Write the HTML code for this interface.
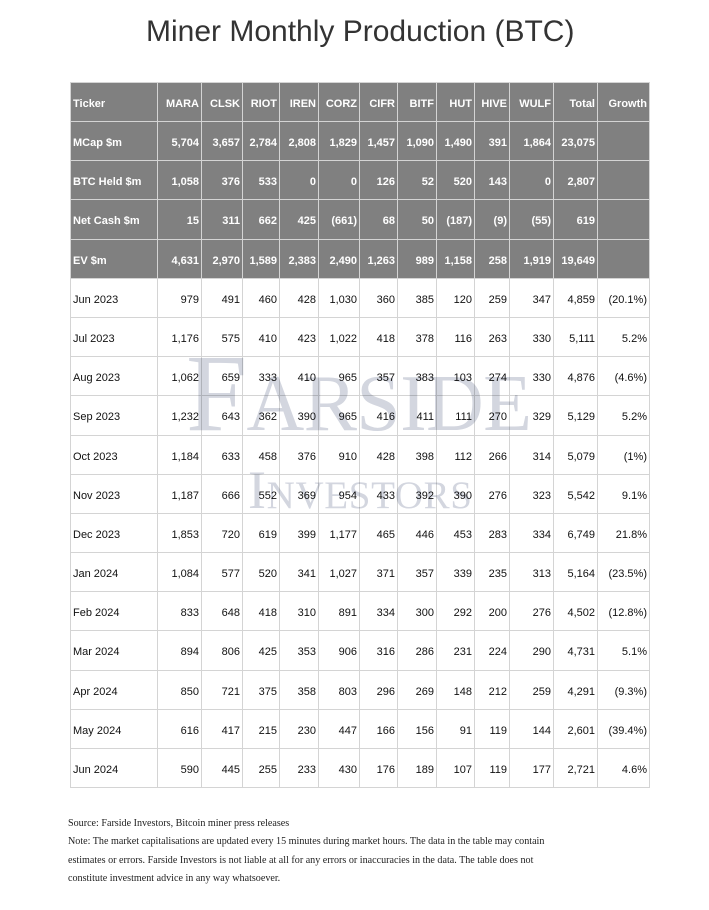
<!DOCTYPE html>
<html><head><meta charset="utf-8">
<style>
html,body{margin:0;padding:0;background:#fff;}
body{width:709px;height:910px;position:relative;overflow:hidden;}
.title{position:absolute;left:146px;top:17px;font:30px/30px "Liberation Sans",Arial,sans-serif;color:#333;white-space:nowrap;}
.grid{position:absolute;left:70px;top:82px;width:578px;height:704px;padding:1px;background:#d4d4d4;display:grid;gap:1px;
grid-template-columns:86px 43px 40px 36px 38px 40px 37px 38px 37px 34px 43px 43px 51px;
grid-template-rows:38px 38px 38px 39px 38px 38px 38px 38px 39px 38px 38px 38px 38px 38px 39px 38px 38px 38px;}
.grid>div{display:flex;align-items:center;justify-content:flex-end;padding:3px 2px 0 0;background:#fff;font:11px "Liberation Sans",Arial,sans-serif;color:#111;white-space:nowrap;overflow:hidden;}
.grid>div.l{justify-content:flex-start;padding:3px 0 0 2px;}
.grid>div.h{background:#808080;color:#fff;font-weight:bold;}
.wm{position:absolute;left:0;top:0;width:709px;height:910px;mix-blend-mode:multiply;pointer-events:none;}
.foot{position:absolute;left:68px;top:815px;font:10.1px/18.3px "Liberation Serif","Times New Roman",serif;color:#222;white-space:nowrap;}
</style></head><body>
<div class="title">Miner Monthly Production (BTC)</div>
<div class="grid">
<div class="h l">Ticker</div><div class="h">MARA</div><div class="h">CLSK</div><div class="h">RIOT</div><div class="h">IREN</div><div class="h">CORZ</div><div class="h">CIFR</div><div class="h">BITF</div><div class="h">HUT</div><div class="h">HIVE</div><div class="h">WULF</div><div class="h">Total</div><div class="h">Growth</div>
<div class="h l">MCap $m</div><div class="h">5,704</div><div class="h">3,657</div><div class="h">2,784</div><div class="h">2,808</div><div class="h">1,829</div><div class="h">1,457</div><div class="h">1,090</div><div class="h">1,490</div><div class="h">391</div><div class="h">1,864</div><div class="h">23,075</div><div class="h"></div>
<div class="h l">BTC Held $m</div><div class="h">1,058</div><div class="h">376</div><div class="h">533</div><div class="h">0</div><div class="h">0</div><div class="h">126</div><div class="h">52</div><div class="h">520</div><div class="h">143</div><div class="h">0</div><div class="h">2,807</div><div class="h"></div>
<div class="h l">Net Cash $m</div><div class="h">15</div><div class="h">311</div><div class="h">662</div><div class="h">425</div><div class="h">(661)</div><div class="h">68</div><div class="h">50</div><div class="h">(187)</div><div class="h">(9)</div><div class="h">(55)</div><div class="h">619</div><div class="h"></div>
<div class="h l">EV $m</div><div class="h">4,631</div><div class="h">2,970</div><div class="h">1,589</div><div class="h">2,383</div><div class="h">2,490</div><div class="h">1,263</div><div class="h">989</div><div class="h">1,158</div><div class="h">258</div><div class="h">1,919</div><div class="h">19,649</div><div class="h"></div>
<div class="l">Jun 2023</div><div>979</div><div>491</div><div>460</div><div>428</div><div>1,030</div><div>360</div><div>385</div><div>120</div><div>259</div><div>347</div><div>4,859</div><div>(20.1%)</div>
<div class="l">Jul 2023</div><div>1,176</div><div>575</div><div>410</div><div>423</div><div>1,022</div><div>418</div><div>378</div><div>116</div><div>263</div><div>330</div><div>5,111</div><div>5.2%</div>
<div class="l">Aug 2023</div><div>1,062</div><div>659</div><div>333</div><div>410</div><div>965</div><div>357</div><div>383</div><div>103</div><div>274</div><div>330</div><div>4,876</div><div>(4.6%)</div>
<div class="l">Sep 2023</div><div>1,232</div><div>643</div><div>362</div><div>390</div><div>965</div><div>416</div><div>411</div><div>111</div><div>270</div><div>329</div><div>5,129</div><div>5.2%</div>
<div class="l">Oct 2023</div><div>1,184</div><div>633</div><div>458</div><div>376</div><div>910</div><div>428</div><div>398</div><div>112</div><div>266</div><div>314</div><div>5,079</div><div>(1%)</div>
<div class="l">Nov 2023</div><div>1,187</div><div>666</div><div>552</div><div>369</div><div>954</div><div>433</div><div>392</div><div>390</div><div>276</div><div>323</div><div>5,542</div><div>9.1%</div>
<div class="l">Dec 2023</div><div>1,853</div><div>720</div><div>619</div><div>399</div><div>1,177</div><div>465</div><div>446</div><div>453</div><div>283</div><div>334</div><div>6,749</div><div>21.8%</div>
<div class="l">Jan 2024</div><div>1,084</div><div>577</div><div>520</div><div>341</div><div>1,027</div><div>371</div><div>357</div><div>339</div><div>235</div><div>313</div><div>5,164</div><div>(23.5%)</div>
<div class="l">Feb 2024</div><div>833</div><div>648</div><div>418</div><div>310</div><div>891</div><div>334</div><div>300</div><div>292</div><div>200</div><div>276</div><div>4,502</div><div>(12.8%)</div>
<div class="l">Mar 2024</div><div>894</div><div>806</div><div>425</div><div>353</div><div>906</div><div>316</div><div>286</div><div>231</div><div>224</div><div>290</div><div>4,731</div><div>5.1%</div>
<div class="l">Apr 2024</div><div>850</div><div>721</div><div>375</div><div>358</div><div>803</div><div>296</div><div>269</div><div>148</div><div>212</div><div>259</div><div>4,291</div><div>(9.3%)</div>
<div class="l">May 2024</div><div>616</div><div>417</div><div>215</div><div>230</div><div>447</div><div>166</div><div>156</div><div>91</div><div>119</div><div>144</div><div>2,601</div><div>(39.4%)</div>
<div class="l">Jun 2024</div><div>590</div><div>445</div><div>255</div><div>233</div><div>430</div><div>176</div><div>189</div><div>107</div><div>119</div><div>177</div><div>2,721</div><div>4.6%</div>
</div>
<svg class="wm" width="709" height="910" viewBox="0 0 709 910" xmlns="http://www.w3.org/2000/svg">
<text x="186" y="430" font-family="Liberation Serif, Times New Roman, serif" fill="#d3d6df" textLength="346"><tspan font-size="110">F</tspan><tspan font-size="80">ARSIDE</tspan></text>
<text x="248" y="508" font-family="Liberation Serif, Times New Roman, serif" fill="#d3d6df" textLength="224"><tspan font-size="54">I</tspan><tspan font-size="39">NVESTORS</tspan></text>
</svg>
<div class="foot">Source: Farside Investors, Bitcoin miner press releases<br>Note: The market capitalisations are updated every 15 minutes during market hours. The data in the table may contain<br>estimates or errors. Farside Investors is not liable at all for any errors or inaccuracies in the data. The table does not<br>constitute investment advice in any way whatsoever.</div>
</body></html>
